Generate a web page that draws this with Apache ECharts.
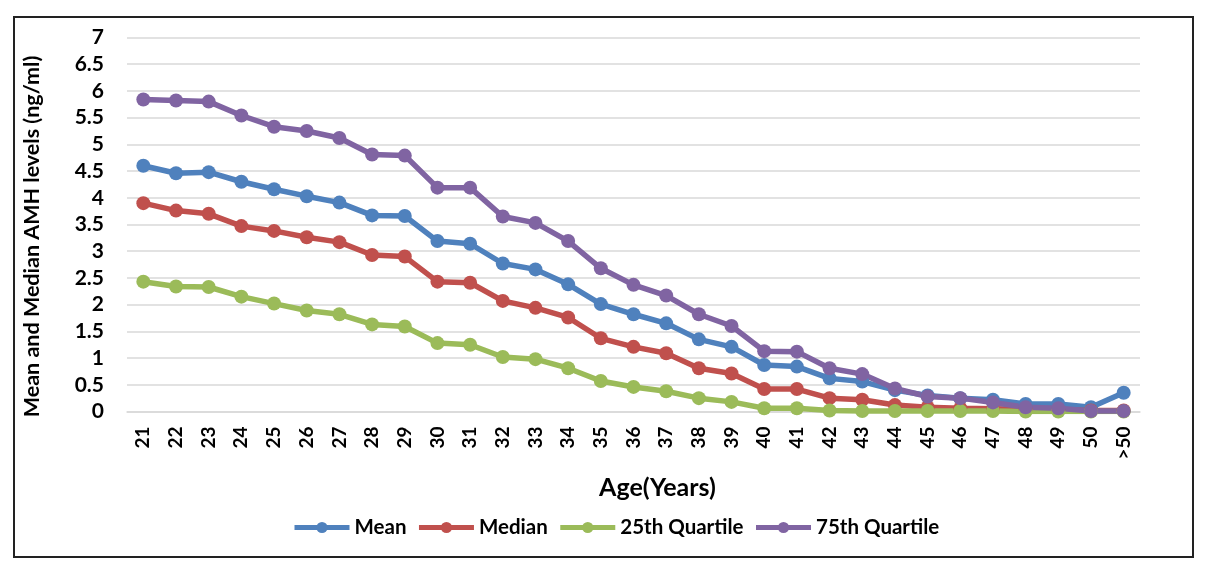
<!DOCTYPE html>
<html>
<head>
<meta charset="utf-8">
<script src="https://cdn.jsdelivr.net/npm/echarts@6/dist/echarts.min.js"></script>
<style>
html,body{margin:0;padding:0;background:#fff;}
#chart{width:1206px;height:568px;}
</style>
</head>
<body>
<div id="chart"></div>
<script>
const ages = ['21','22','23','24','25','26','27','28','29','30','31','32','33','34','35','36','37','38','39','40','41','42','43','44','45','46','47','48','49','50','>50'];
const meanVals = [4.60,4.46,4.48,4.30,4.16,4.03,3.91,3.67,3.66,3.19,3.14,2.77,2.66,2.38,2.01,1.82,1.65,1.35,1.21,0.87,0.84,0.62,0.56,0.40,0.30,0.25,0.22,0.14,0.14,0.08,0.35];
const medianVals = [3.90,3.76,3.70,3.47,3.38,3.26,3.17,2.93,2.90,2.43,2.41,2.07,1.94,1.76,1.37,1.21,1.09,0.81,0.71,0.42,0.42,0.25,0.22,0.12,0.08,0.06,0.05,0.04,0.03,0.02,0.02];
const q25Vals = [2.43,2.34,2.33,2.15,2.02,1.89,1.82,1.63,1.59,1.28,1.25,1.02,0.98,0.81,0.57,0.46,0.38,0.25,0.18,0.06,0.06,0.02,0.01,0.01,0.01,0.01,0.01,0.00,0.00,0.00,0.00];
const q75Vals = [5.84,5.82,5.80,5.54,5.33,5.25,5.12,4.81,4.79,4.19,4.19,3.65,3.53,3.19,2.68,2.37,2.17,1.82,1.60,1.13,1.12,0.81,0.70,0.43,0.28,0.25,0.17,0.08,0.06,0.01,0.01];
const seriesNames = ['Mean','Median','25th Quartile','75th Quartile'];
const colors = ['#4F81BD','#C0504D','#9BBB59','#8064A2'];
const FONT = 'Lato';

const chart = echarts.init(document.getElementById('chart'));
const dataSets = [meanVals, medianVals, q25Vals, q75Vals];
chart.setOption({
  animation: false,
  color: colors,
  textStyle: {fontFamily: FONT},
  graphic: [{
    type: 'rect',
    shape: {x: 14, y: 17, width: 1179, height: 540},
    style: {fill: 'none', stroke: '#222', lineWidth: 2},
    silent: true
  }],
  grid: {left: 127, right: 66, top: 37.5, bottom: 156.5},
  legend: {
    left: 287, top: 512,
    itemWidth: 55, itemHeight: 14, itemGap: 10,
    lineStyle: {width: 5},
    textStyle: {fontFamily: FONT, fontWeight: 'bold', fontSize: 20.5, color: '#000'},
    data: seriesNames
  },
  xAxis: {
    type: 'category',
    data: ages,
    boundaryGap: true,
    name: 'Age(Years)',
    nameLocation: 'middle',
    nameGap: 64,
    nameTextStyle: {fontFamily: FONT, fontWeight: 'bold', fontSize: 25, color: '#000', padding: [0, 0, 0, 48]},
    axisLine: {lineStyle: {color: '#D9D9D9', width: 1.5}},
    axisTick: {show: false},
    axisLabel: {rotate: 90, margin: 15, fontFamily: FONT, fontWeight: 'bold', fontSize: 19, color: '#000'}
  },
  yAxis: {
    type: 'value',
    min: 0, max: 7, interval: 0.5,
    name: 'Mean and Median AMH levels (ng/ml)',
    nameLocation: 'middle',
    nameGap: 84,
    nameTextStyle: {fontFamily: FONT, fontWeight: 'bold', fontSize: 21.5, color: '#000', padding: [0, 24, 0, 0]},
    axisLine: {show: false},
    axisTick: {show: false},
    axisLabel: {margin: 23, fontFamily: FONT, fontWeight: 'bold', fontSize: 21, color: '#000'},
    splitLine: {lineStyle: {color: '#D9D9D9', width: 1.5}}
  },
  series: seriesNames.map((n, i) => ({
    name: n,
    type: 'line',
    data: dataSets[i],
    symbol: 'circle',
    symbolSize: 14,
    lineStyle: {width: 5.5, color: colors[i]},
    itemStyle: {color: colors[i]}
  }))
});
</script>
</body>
</html>
